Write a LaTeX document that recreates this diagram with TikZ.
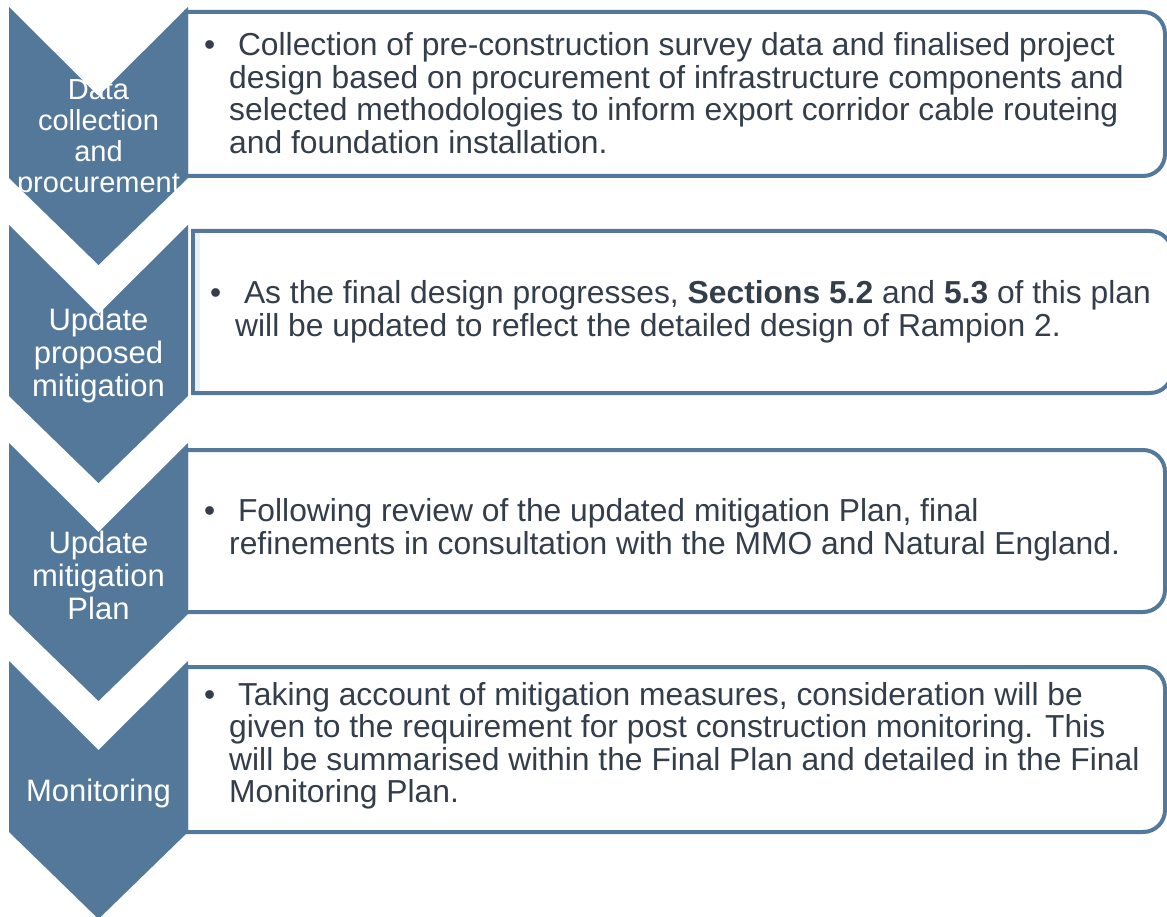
\documentclass[tikz,border=0pt]{standalone}
\usepackage{fontspec}
\setmainfont{Liberation Sans}
\definecolor{chevblue}{RGB}{84,120,153}
\definecolor{inkgrey}{RGB}{52,62,75}
\begin{document}
\begin{tikzpicture}[x=1pt,y=-1pt,
  panel/.style={draw=chevblue,line width=4pt,fill=white},
  chevron/.style={fill=chevblue},
  stage/.style={text=white,align=center,inner sep=0pt},
  bullets/.style={text=inkgrey,align=left,anchor=west,inner sep=0pt,font=\fontsize{31.8}{32.5}\selectfont}]
\path[use as bounding box] (0,0) rectangle (1167,917);
% panels behind the chevrons
\draw[panel](186,12)--(1143,12)arc[start angle=-90,end angle=0,radius=22]--(1165,154)arc[start angle=0,end angle=90,radius=22]--(186,176)--cycle;
\draw[panel](193,231)--(1150,231)arc[start angle=-90,end angle=0,radius=22]--(1172,371)arc[start angle=0,end angle=90,radius=22]--(193,393)--cycle;
\fill[chevblue!12](195,233)rectangle(200,391);
\draw[panel](186,450)--(1143,450)arc[start angle=-90,end angle=0,radius=22]--(1165,590)arc[start angle=0,end angle=90,radius=22]--(186,612)--cycle;
\draw[panel](186,667)--(1143,667)arc[start angle=-90,end angle=0,radius=22]--(1165,810)arc[start angle=0,end angle=90,radius=22]--(186,832)--cycle;
% chevrons
\fill[chevron](9,7)--(98.5,96)--(188,7)--(188,178)--(98.5,265)--(9,178)--cycle;
\fill[chevron](9,225)--(98.5,314)--(188,225)--(188,396)--(98.5,483)--(9,396)--cycle;
\fill[chevron](9,443)--(98.5,532)--(188,443)--(188,614)--(98.5,701)--(9,614)--cycle;
\fill[chevron](9,661)--(98.5,750)--(188,661)--(188,832)--(98.5,919)--(9,832)--cycle;
% stage names
\node[stage,font=\fontsize{29}{30.7}\selectfont](collect) at (98.5,139){Data\\collection\\and\\procurement};
\node[stage,font=\fontsize{31}{33}\selectfont](propose) at (98.5,355){Update\\proposed\\mitigation};
\node[stage,font=\fontsize{31}{33}\selectfont](plan) at (98.5,575){Update\\mitigation\\Plan};
\node[stage,font=\fontsize{31}{33}\selectfont](monitor) at (98.5,793){Monitoring};
% bullet texts
\node[bullets](collecttext) at (229,93){\llap{\textbullet\hspace{14pt}}\ Collection of pre-construction survey data and finalised project\\design based on procurement of infrastructure components and\\selected methodologies to inform export corridor cable routeing\\and foundation installation.};
\node[bullets](proposetext) at (235,312){\llap{\textbullet\hspace{14pt}}\ As the final design progresses, \textbf{Sections 5.2} and \textbf{5.3} of this plan\\will be updated to reflect the detailed design of Rampion 2.};
\node[bullets](plantext) at (229,530){\llap{\textbullet\hspace{14pt}}\ Following review of the updated mitigation Plan, final\\refinements in consultation with the MMO and Natural England.};
\node[bullets](monitortext) at (229,746){\llap{\textbullet\hspace{14pt}}\ Taking account of mitigation measures, consideration will be\\given to the requirement for post construction monitoring. This\\will be summarised within the Final Plan and detailed in the Final\\Monitoring Plan.};
\end{tikzpicture}
\end{document}
